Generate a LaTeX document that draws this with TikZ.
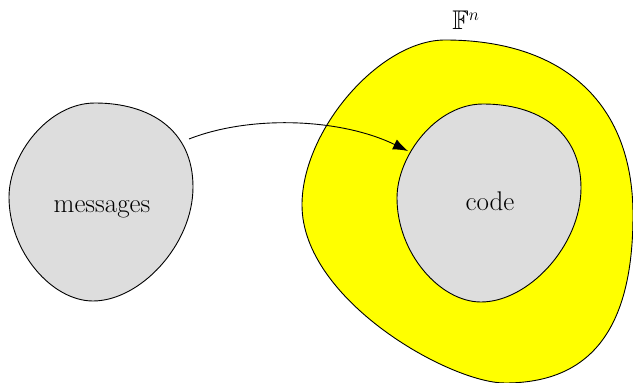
\documentclass[tikz,border=0pt]{standalone}
\usepackage{amssymb}
\usetikzlibrary{arrows.meta}
\definecolor{blobgray}{RGB}{221,221,221}
\definecolor{spaceyellow}{RGB}{255,255,0}
\tikzset{
  blob/.style={draw=black, line width=0.9pt},
  lbl/.style={font=\fontsize{27}{32}\selectfont, inner sep=0pt},
  mapsto/.style={draw=black, line width=0.9pt, -{Latex[length=15pt,width=11pt]}}
}
\begin{document}
\begin{tikzpicture}[x=1pt,y=-1pt]
\useasboundingbox (0,0) rectangle (633,383);
% ambient space
\filldraw[blob, fill=spaceyellow]
  (302,205) .. controls (302,130) and (380,40) .. (445,40)
            .. controls (560,40) and (633,100) .. (633,215)
            .. controls (633,330) and (590,383) .. (505,383)
            .. controls (450,383) and (302,300) .. cycle;
% message set
\filldraw[blob, fill=blobgray]
  (95,103) .. controls (150,103) and (193,130) .. (193,187)
           .. controls (193,245) and (140,301) .. (93,301)
           .. controls (52,301) and (9,252) .. (9,197)
           .. controls (9,155) and (48,103) .. cycle;
% code inside the space, same outline shifted
\begin{scope}[xshift=388pt, yshift=-1pt]
\filldraw[blob, fill=blobgray]
  (95,103) .. controls (150,103) and (193,130) .. (193,187)
           .. controls (193,245) and (140,301) .. (93,301)
           .. controls (52,301) and (9,252) .. (9,197)
           .. controls (9,155) and (48,103) .. cycle;
\end{scope}
\node[lbl] (msg) at (102,209) {messages};
\node[lbl] (code) at (490,201) {code};
\node[lbl] (Fn) at (466,20) {$\mathbb{F}^n$};
\coordinate (src) at (189,139);
\coordinate (dst) at (408,151);
\draw[mapsto] (src) .. controls (250,115) and (340,118) .. (dst);
\end{tikzpicture}
\end{document}
